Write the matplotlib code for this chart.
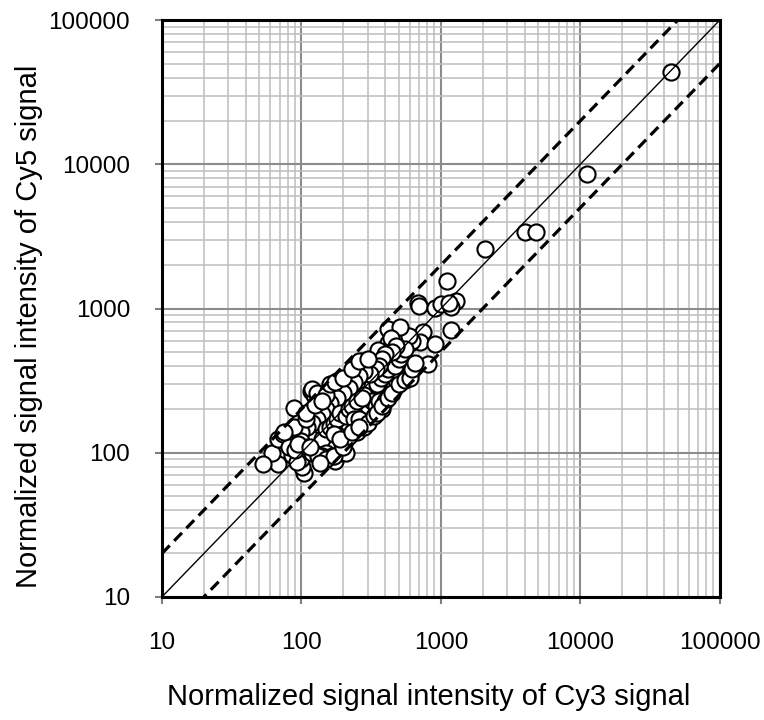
import numpy as np
import matplotlib
matplotlib.use("Agg")
import matplotlib.pyplot as plt
from matplotlib.ticker import LogLocator, FixedLocator, NullFormatter

plt.rcParams['font.family'] = ['Liberation Sans', 'DejaVu Sans']

# Cy3 / Cy5 normalized intensities
cy3 = [45000, 11200, 4000, 4850, 2080, 1110,
       690, 700, 910, 1000, 1290, 1180, 1150, 1190, 750, 710, 905, 810,
       600, 620, 595, 420, 510, 421, 440, 352, 398, 270, 285, 312, 421, 507, 615, 610, 630,
       431, 460, 480, 339, 330, 266, 226, 181, 178, 197, 164, 190, 235, 312, 339, 277, 260,
       352, 380, 390, 365, 259, 226, 235, 193, 193, 180, 164, 140, 129, 119, 117, 124, 101,
       88, 93, 87, 119, 134, 150, 164, 151, 160, 173, 193, 193, 210, 205, 220, 129, 110,
       105, 105, 101, 100, 95, 79, 70, 73, 68, 62, 53, 86, 93, 68, 74, 95, 82, 90,
       112, 115, 125, 140, 145, 155, 170, 175, 185, 200, 210, 215, 230, 245, 250, 270, 290,
       300, 320, 330, 300, 280, 260, 240, 280, 300, 320, 350, 370, 400, 420, 450, 470, 500,
       520, 550, 480, 450, 400, 380, 360, 340, 310, 280, 260, 240, 220, 200, 180, 160, 150,
       140, 130, 120, 110, 100, 100, 110, 120, 130, 140, 150, 160, 170, 180, 190, 210, 220,
       230, 250, 270, 150, 140, 165, 185, 240, 260, 340, 360, 400, 378, 120, 88, 108, 132,
       75, 130, 150, 160, 175, 200, 230, 260, 300,
       150, 170, 200, 220, 250, 280, 300, 330, 350, 380, 420, 450, 500, 550, 600, 620, 650,
       108, 125, 140, 170, 190, 230, 260, 95, 115, 135]
cy5 = [44000, 8600, 3400, 3400, 2600, 1560,
       1085, 1040, 1010, 1080, 1120, 1020, 1100, 710, 690, 585, 570, 410,
       580, 600, 640, 720, 750, 580, 620, 515, 435, 435, 420, 375, 375, 420, 390, 360, 400,
       312, 295, 320, 335, 310, 280, 323, 312, 300, 273, 250, 240, 220, 216, 193, 193, 210,
       250, 260, 230, 200, 150, 150, 187, 180, 150, 140, 193, 216, 187, 201, 269, 250, 180,
       205, 155, 139, 144, 161, 130, 120, 108, 115, 88, 100, 120, 100, 120, 150, 120, 120,
       96, 72, 80, 90, 130, 116, 108, 96, 83, 100, 83, 96, 86, 125, 134, 161, 110, 105,
       140, 155, 130, 150, 175, 165, 180, 205, 215, 200, 220, 250, 270, 260, 300, 320, 300,
       280, 290, 250, 240, 250, 230, 200, 180, 210, 230, 300, 330, 350, 380, 420, 400, 450,
       480, 520, 550, 500, 480, 450, 400, 380, 350, 370, 340, 310, 280, 260, 240, 220, 200,
       185, 170, 160, 150, 140, 120, 110, 100, 110, 125, 145, 150, 160, 170, 190, 180, 200,
       210, 230, 240, 100, 95, 95, 130, 170, 170, 210, 230, 230, 200, 275, 150, 170, 95,
       140, 260, 250, 300, 310, 330, 380, 430, 450,
       90, 95, 110, 130, 140, 150, 160, 180, 190, 210, 240, 260, 300, 320, 330, 380, 420,
       190, 215, 230, 135, 125, 140, 150, 115, 110, 85]

ticks = [10, 100, 1000, 10000, 100000]
tick_labels = ['10', '100', '1000', '10000', '100000']
fold = 2

fig = plt.figure(figsize=(7.64, 7.2), dpi=100)
ax = fig.add_axes([0.212, 0.171, 0.730, 0.801])
ax.set_xscale('log')
ax.set_yscale('log')
ax.set_xlim(10, 100000)
ax.set_ylim(10, 100000)

# grid
ax.xaxis.set_minor_locator(LogLocator(base=10, subs=np.arange(2, 10), numticks=20))
ax.yaxis.set_minor_locator(LogLocator(base=10, subs=np.arange(2, 10), numticks=20))
ax.xaxis.set_minor_formatter(NullFormatter())
ax.yaxis.set_minor_formatter(NullFormatter())
ax.grid(which='minor', color='#bdbdbd', linewidth=1.1, zorder=0)
ax.grid(which='major', color='#8c8c8c', linewidth=1.5, zorder=0)
ax.set_axisbelow(True)

ax.scatter(cy3, cy5, s=135, facecolor='white', edgecolor='black', linewidths=1.5, zorder=3)

line = np.array([10, 100000])
ax.plot(line, line, color='black', linewidth=1.0, zorder=4)
ax.plot(line, line * fold, color='black', linewidth=2.3, linestyle=(0, (3.5, 2)), zorder=4)
ax.plot(line, line / fold, color='black', linewidth=2.3, linestyle=(0, (3.5, 2)), zorder=4)

ax.xaxis.set_major_locator(FixedLocator(ticks))
ax.yaxis.set_major_locator(FixedLocator(ticks))
ax.set_xticklabels(tick_labels)
ax.set_yticklabels(tick_labels)
ax.tick_params(which='major', direction='out', length=5, width=1.5, color='#808080',
               labelsize=17.5)
ax.tick_params(axis='x', pad=20)
ax.tick_params(axis='y', pad=18)
ax.tick_params(which='minor', length=0)

for s in ax.spines.values():
    s.set_color('black')
    s.set_linewidth(2.2)

ax.set_xlabel('Normalized signal intensity of Cy3 signal', fontsize=21)
ax.set_ylabel('Normalized signal intensity of Cy5 signal', fontsize=21)
ax.xaxis.set_label_coords(0.478, -0.149)
ax.yaxis.set_label_coords(-0.213, 0.47)

fig.savefig('out.png', dpi=100)
